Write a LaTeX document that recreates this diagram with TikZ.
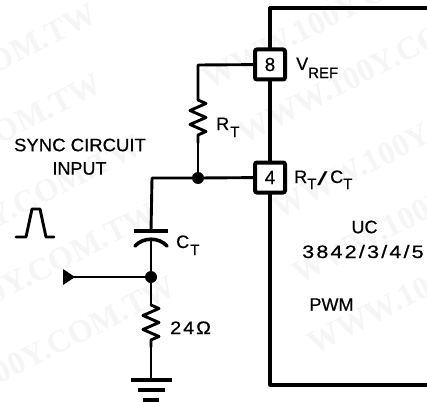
\documentclass[tikz,border=0pt]{standalone}
\usepackage{fontspec}
\setmainfont{Liberation Sans}
\newfontfamily\wmfont{Liberation Serif}
\newfontfamily\lblfont{Liberation Sans}[FakeBold=0.6]
\newfontfamily\lblwide{Liberation Sans}[FakeBold=0.6,LetterSpace=10]
\tikzset{
  x=1pt,y=-1pt,
  wire/.style={line width=2.9pt,line cap=round,line join=round},
  plate/.style={line width=3.6pt},
  pinbox/.style={draw,line width=4pt,rounded corners=2pt,fill=white,minimum width=30pt,minimum height=30pt,inner sep=0pt,font=\lblfont\fontsize{19}{19}\selectfont},
  dotnode/.style={circle,fill=black,inner sep=0pt,minimum size=12pt},
  lbl/.style={inner sep=0pt,font=\lblfont\fontsize{18}{18}\selectfont},
  lblw/.style={inner sep=0pt,font=\lblwide\fontsize{18}{18}\selectfont},
  sub/.style={inner sep=0pt,anchor=base west,font=\lblfont\fontsize{15}{15}\selectfont},
  wm/.style={rotate=27,anchor=west,text=black!4,font=\wmfont\fontsize{32}{32}\selectfont\bfseries,inner sep=0pt},
}
\newcommand{\zigres}[2]{%
  \draw[wire] (#1) -- ++(8,3.5) -- ++(-16,7) -- ++(16,7) -- ++(-16,7) -- ++(16,7) -- ++(-8,3.5) -- (#2);}
\begin{document}
\begin{tikzpicture}
\useasboundingbox (0,0) rectangle (427,401);
\fill[white] (0,0) rectangle (427,401);
\begin{scope}
\clip (0,0) rectangle (427,401);
\node[wm] (w1) at (-10,65) {OM.TW};
\node[wm] (w2) at (205,80) {WWW.100Y.COM};
\node[wm] (w3) at (240,135) {WWW.100Y.COM};
\node[wm] (w4) at (275,210) {WWW.100Y.COM};
\node[wm] (w5) at (295,275) {WWW.100Y.COM};
\node[wm] (w6) at (310,345) {WWW.100Y.COM};
\node[wm] (w7) at (-5,135) {OM.TW};
\node[wm] (w8) at (-10,220) {Y.COM.TW};
\node[wm] (w9) at (-10,295) {0Y.COM.TW};
\node[wm] (w10) at (-5,375) {00Y.COM.TW};
\end{scope}
% IC outline
\coordinate (ictr) at (427,8);
\coordinate (ictl) at (270,8);
\coordinate (icbl) at (270,385);
\coordinate (icbr) at (427,385);
\draw[wire,line width=3.2pt,line cap=butt] (ictr) -- (ictl) -- (icbl) -- (icbr);
% pins
\node[pinbox] (p8) at (270,64.5) {8};
\node[pinbox] (p4) at (270,177.5) {4};
% junctions
\node[dotnode] (j1) at (198,178) {};
\node[dotnode] (j2) at (151,277) {};
\coordinate (c1) at (198,65);
\coordinate (c2) at (152,178);
\coordinate (rtt) at (198,100);
\coordinate (rtb) at (198,143);
\coordinate (capt) at (151,231);
\coordinate (capb) at (151,241);
\coordinate (r2t) at (151,305);
\coordinate (r2b) at (151,347);
\coordinate (gnd) at (151,380);
% wires
\draw[wire] (p8) -- (c1) -- (rtt);
\zigres{rtt}{rtb}
\draw[wire] (rtb) -- (j1);
\draw[wire] (p4) -- (j1) -- (c2) -- (capt);
\draw[plate] (134,231) -- (168,231);
\draw[plate,line cap=round] (135,246) .. controls (143,237) and (159,237) .. (167,246);
\draw[wire] (capb) -- (j2) -- (r2t);
\zigres{r2t}{r2b}
\draw[wire] (r2b) -- (gnd);
% input
\coordinate (inp) at (72,277);
\draw[wire] (inp) -- (j2);
\fill (63,269) -- (75,277) -- (63,285) -- cycle;
% ground
\draw[plate] (131,380) -- (172,380);
\draw[plate] (138,390) -- (165,390);
\draw[plate] (143,400) -- (159,400);
% pulse
\draw[wire] (16,237) -- (26,237) -- (32,209) -- (40,209) -- (46,237) -- (54,237);
% labels
\node[lbl] (t1) at (80,145) {\scalebox{1.03}[1]{SYNC CIRCUIT}};
\node[lbl] (t2) at (79.5,168.5) {INPUT};
\node[lbl,anchor=base west] (t3) at (296,70) {V};
\node[sub] (t3s) at (308,78) {REF};
\node[lbl,anchor=base west] (t4) at (216,130) {R};
\node[sub] (t4s) at (230,137) {T};
\node[lbl,anchor=base west] (t5) at (294,183) {R};
\node[sub] (t5s) at (307,189) {T};
\node[inner sep=0pt,anchor=base west,font=\rmfamily\fontsize{19}{19}\selectfont] (t5b) at (317,185) {\scalebox{2}[1]{/}};
\node[lbl,anchor=base west] (t5c) at (330,183) {C};
\node[sub] (t5t) at (343,189) {T};
\node[lbl,anchor=base west] (t6) at (176,248) {C};
\node[sub] (t6s) at (190,255) {T};
\node[lblw,anchor=base west] (t7) at (170,334) {\scalebox{1.1}[1]{24Ω}};
\node[lbl] (t8) at (364.5,227) {UC};
\node[lblw,anchor=base west] (t9) at (302,258) {\scalebox{1.2}[1]{3842/3/4/5}};
\node[lbl] (t10) at (331.5,304.5) {PWM};
\end{tikzpicture}
\end{document}
